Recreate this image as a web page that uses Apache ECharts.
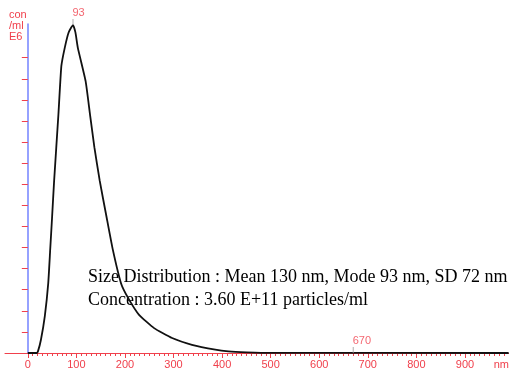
<!DOCTYPE html>
<html>
<head>
<meta charset="utf-8">
<script src="https://cdn.jsdelivr.net/npm/echarts@6/dist/echarts.min.js"></script>
<style>
  html, body { margin: 0; padding: 0; background: #fff; }
  #chart { width: 512px; height: 370px; }
</style>
</head>
<body>
<div id="chart"></div>
<script>
// size (nm) and concentration (E6 /ml)
var sizes = [0, 18, 21, 27, 35, 42, 46, 50, 54, 63, 69, 76, 84, 93, 98, 103, 119, 128, 137, 148, 162, 175, 192, 207, 229, 260, 297, 338, 386, 413, 450, 480, 990];
var conc  = [0, 0, 0.09, 0.63, 1.75, 3.3, 4.87, 6.46, 8.11, 11.32, 13.6, 14.47, 15.2, 15.55, 15.2, 14.47, 12.89, 11.32, 9.76, 8.17, 6.46, 4.9, 3.3, 2.59, 1.81, 1.18, 0.71, 0.39, 0.16, 0.08, 0.03, 0.01, 0];

// marked points: peak and upper limit
var markSizes = [93, 670];
var markConc = [15.55, 0];

var xLabelValues = [0, 100, 200, 300, 400, 500, 600, 700, 800, 900, 975];
var yTickValues = [0, 1, 2, 3, 4, 5, 6, 7, 8, 9, 10, 11, 12, 13, 14];

var infoLines = [
  'Size Distribution : Mean 130 nm, Mode 93 nm, SD 72 nm',
  'Concentration : 3.60 E+11 particles/ml'
];

var red = '#f0404c';

var majorTicks = [];
var minorTicks = [];
for (var v = 0; v <= 980; v += 10) {
  if (v % 100 == 0) majorTicks.push(v); else minorTicks.push(v);
}

var lineData = sizes.map(function (s, i) { return [s, conc[i]]; });
var markData = markSizes.map(function (s, i) { return [s, markConc[i]]; });

var chart = echarts.init(document.getElementById('chart'));
chart.setOption({
  animation: false,
  grid: { left: 5, right: 0, top: 24, bottom: 15 },
  xAxis: [
    {
      type: 'value',
      position: 'bottom',
      min: -47,
      max: 990,
      axisLine: { lineStyle: { color: red, width: 1 } },
      axisTick: { customValues: majorTicks, length: 5, lineStyle: { color: red } },
      axisLabel: {
        customValues: xLabelValues,
        color: red,
        fontFamily: 'Liberation Sans',
        fontSize: 11,
        margin: 6,
        formatter: function (val) { return val == 975 ? 'nm' : String(val); }
      },
      splitLine: { show: false }
    },
    {
      type: 'value',
      position: 'bottom',
      min: -47,
      max: 990,
      axisLine: { show: false },
      axisTick: { customValues: minorTicks, length: 3, lineStyle: { color: red } },
      axisLabel: { show: false },
      splitLine: { show: false }
    }
  ],
  yAxis: {
    type: 'value',
    min: 0,
    max: 15.6,
    axisLine: { onZero: true, lineStyle: { color: '#7383ff', width: 1.5 } },
    axisTick: { customValues: yTickValues, length: 6, lineStyle: { color: red } },
    axisLabel: { show: false },
    splitLine: { show: false }
  },
  graphic: [
    {
      type: 'text',
      left: 9,
      top: 9,
      style: {
        text: 'con\n/ml\nE6',
        fill: red,
        font: '11px "Liberation Sans"',
        lineHeight: 11
      }
    },
    {
      type: 'text',
      left: 88,
      top: 266,
      style: {
        text: infoLines.join('\n'),
        fill: '#000',
        font: '18px "Liberation Serif"',
        lineHeight: 23
      }
    }
  ],
  series: [
    {
      type: 'line',
      xAxisIndex: 0,
      data: lineData,
      smooth: 0.15,
      symbol: 'none',
      lineStyle: { color: '#111', width: 1.8 },
      z: 3
    },
    {
      type: 'scatter',
      xAxisIndex: 0,
      data: markData,
      symbol: 'rect',
      symbolSize: [1, 6],
      symbolOffset: [0, -3],
      itemStyle: { color: '#999' },
      label: {
        show: true,
        position: [0, -1],
        align: 'left',
        verticalAlign: 'bottom',
        color: red,
        fontFamily: 'Liberation Sans',
        fontSize: 11,
        formatter: function (p) { return String(p.value[0]); }
      },
      z: 4
    }
  ]
});
</script>
</body>
</html>
